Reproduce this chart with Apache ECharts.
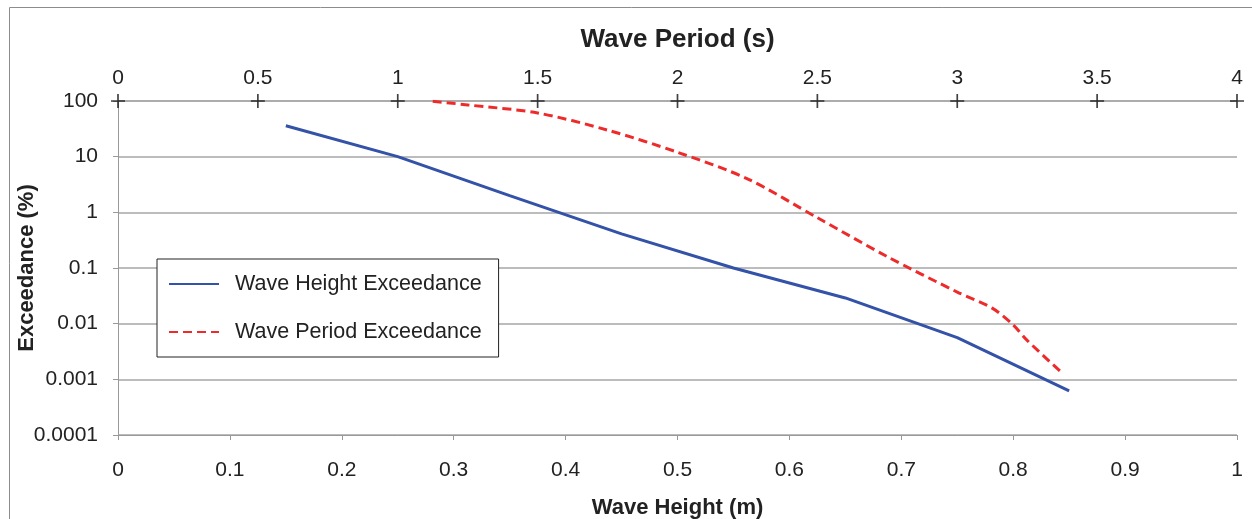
<!DOCTYPE html>
<html>
<head>
<meta charset="utf-8">
<script src="https://cdn.jsdelivr.net/npm/echarts@6/dist/echarts.min.js"></script>
<style>
  html, body { margin: 0; padding: 0; background: #fff; }
  #chart { width: 1252px; height: 519px; }
</style>
</head>
<body>
<div id="chart"></div>
<script>
// wave height (m) -> exceedance (%)
const heightX = [0.15, 0.25, 0.35, 0.45, 0.55, 0.65, 0.75, 0.85];
const heightExc = [36, 10, 2.0, 0.41, 0.1, 0.029, 0.0056, 0.00062];

// wave period (s) -> exceedance (%)
const periodX = [1.125, 1.25, 1.5, 1.75, 2.0, 2.25, 2.5, 2.75, 3.0, 3.125, 3.2, 3.25, 3.375];
const periodExc = [99, 85, 61, 30, 12, 4.0, 0.8, 0.16, 0.037, 0.019, 0.0095, 0.005, 0.0013];

const yTicks = ['0.0001', '0.001', '0.01', '0.1', '1', '10', '100'];
// top axis tick positions (s), drawn as "+" crosses on the 100 % line
const periodTicks = [0, 0.5, 1, 1.5, 2, 2.5, 3, 3.5, 4];

const font = 'Liberation Sans, Arial, sans-serif';
const gridGray = '#a6a6a6';
const plusIcon = 'path://M0,4.4H10V5.6H0Z M4.4,0H5.6V10H4.4Z';

function pairs(xs, ys) {
    return xs.map((x, i) => [x, ys[i]]);
}

const chart = echarts.init(document.getElementById('chart'));

const option = {
    animation: false,
    textStyle: { fontFamily: font },
    graphic: [
        {
            type: 'rect',
            shape: { x: 9.5, y: 7.5, width: 1400, height: 700 },
            style: { fill: 'none', stroke: '#8c8c8c', lineWidth: 1 },
            silent: true,
        },
    ],
    grid: {
        left: 118,
        right: 15,
        top: 101,
        bottom: 84,
        containLabel: false,
        outerBoundsMode: 'none',
    },
    legend: {
        orient: 'vertical',
        left: 157,
        top: 259,
        padding: [14, 17, 14, 11],
        itemWidth: 50,
        itemHeight: 20,
        itemGap: 26,
        borderColor: '#222',
        borderWidth: 1,
        backgroundColor: '#fff',
        itemStyle: { opacity: 0 },
        textStyle: {
            fontSize: 21.5,
            color: '#222',
            fontFamily: font,
            padding: [0, 0, 0, 11],
        },
        data: ['Wave Height Exceedance', 'Wave Period Exceedance'],
    },
    xAxis: [
        {
            type: 'value',
            position: 'bottom',
            min: 0,
            max: 1,
            interval: 0.1,
            name: 'Wave Height (m)',
            nameLocation: 'middle',
            nameGap: 62,
            nameTextStyle: { fontSize: 22, fontWeight: 'bold', color: '#222' },
            axisLine: { lineStyle: { color: '#999', width: 1 } },
            axisTick: { show: true, length: 5, lineStyle: { color: '#999' } },
            axisLabel: { fontSize: 21, color: '#222', margin: 25 },
            splitLine: { show: false },
        },
        {
            type: 'value',
            position: 'top',
            min: 0,
            max: 4,
            interval: 0.5,
            name: 'Wave Period (s)',
            nameLocation: 'middle',
            nameGap: 48,
            nameTextStyle: { fontSize: 26, fontWeight: 'bold', color: '#222' },
            axisLine: { lineStyle: { color: gridGray, width: 1.5 } },
            axisTick: { show: false },
            axisLabel: { fontSize: 21, color: '#222', margin: 12 },
            splitLine: { show: false },
        },
    ],
    yAxis: {
        type: 'log',
        logBase: 10,
        min: 0.0001,
        max: 100,
        name: 'Exceedance (%)',
        nameLocation: 'middle',
        nameGap: 80,
        nameMoveOverlap: false,
        nameTextStyle: { fontSize: 22, fontWeight: 'bold', color: '#222' },
        axisLine: { show: true, lineStyle: { color: '#999', width: 1 } },
        axisTick: { show: true, length: 5, lineStyle: { color: '#999' } },
        axisLabel: {
            fontSize: 21,
            color: '#222',
            margin: 20,
            formatter: (v) => {
                const i = Math.round(Math.log10(v)) + 4;
                return yTicks[i] ?? '';
            },
        },
        splitLine: { show: true, lineStyle: { color: gridGray, width: 1.5 } },
    },
    series: [
        {
            name: 'Wave Height Exceedance',
            type: 'line',
            xAxisIndex: 0,
            data: pairs(heightX, heightExc),
            symbol: 'none',
            lineStyle: { color: '#3352a8', width: 3 },
            itemStyle: { color: '#3352a8' },
            z: 3,
        },
        {
            name: 'Wave Period Exceedance',
            type: 'line',
            xAxisIndex: 1,
            data: pairs(periodX, periodExc),
            symbol: 'none',
            smooth: 0.3,
            lineStyle: { color: '#ee2b2b', width: 3, type: [9, 5] },
            itemStyle: { color: '#ee2b2b' },
            z: 3,
        },
        {
            name: 'ticks',
            type: 'scatter',
            xAxisIndex: 1,
            data: periodTicks.map((t) => [t, 100]),
            symbol: plusIcon,
            symbolSize: 14,
            itemStyle: { color: '#111' },
            silent: true,
            clip: false,
            z: 4,
        },
    ],
};

chart.setOption(option);
</script>
</body>
</html>
